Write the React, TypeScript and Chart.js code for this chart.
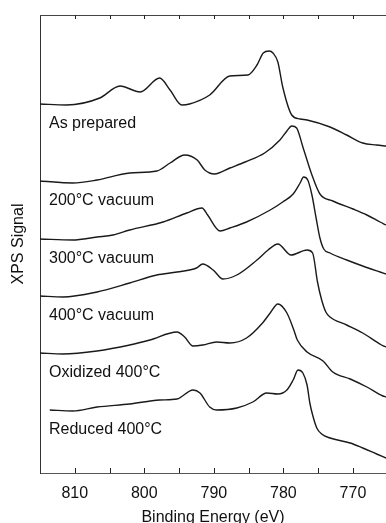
import React, { useEffect, useRef } from 'react';
import { Chart, registerables } from 'chart.js';

Chart.register(...registerables);

// Binding energy axis (eV), reversed
const energyMin = 765.25;
const energyMax = 815;
const tickStep = 5;

const seriesNames = ['As prepared', '200°C vacuum', '300°C vacuum', '400°C vacuum', 'Oxidized 400°C', 'Reduced 400°C'];

// As prepared
const asPreparedE = [815.0, 811.2, 806.4, 803.5, 800.6, 797.8, 796.3, 794.6, 793.5, 790.6, 787.7, 785.1, 783.8, 782.9, 782.05, 781.5, 780.8, 780.1, 778.8, 777.6, 776.6, 773.3, 770.9, 768.6, 766.6, 765.25];
const asPreparedY = [369, 368, 375, 387, 381, 395, 383, 368, 369, 378, 397, 398, 408, 420, 422, 420, 411, 386, 358, 354, 353, 346, 338, 330, 328, 327];

// 200 °C vacuum
const vac200E = [815.0, 810.3, 806.8, 802.1, 798.2, 796.3, 794.2, 792.4, 791.3, 789.9, 787.7, 785.5, 782.7, 780.5, 779.5, 778.8, 778.1, 777.2, 775.9, 774.75, 772.9, 770.0, 768.0, 766.1, 765.25];
const vac200Y = [292, 290, 293, 300, 302, 310, 318, 313, 303, 299, 305, 311, 320, 333, 342, 347, 345, 326, 298, 279, 272, 264, 258, 251, 248];

// 300 °C vacuum
const vac300E = [815.0, 810.3, 806.8, 804.5, 802.1, 797.3, 793.9, 791.7, 790.9, 789.1, 787.7, 785.3, 781.9, 780.1, 778.6, 777.6, 777.1, 776.5, 775.9, 775.3, 774.75, 774.2, 773.3, 770.9, 768.6, 766.1, 765.25];
const vac300Y = [234, 233, 236, 238, 243, 251, 260, 265, 258, 242, 245, 251, 263, 271, 279, 290, 296, 293, 278, 255, 235, 224, 220, 213, 207, 201, 199];

// 400 °C vacuum
const vac400E = [815.0, 811.7, 806.8, 802.1, 798.2, 795.3, 792.5, 791.6, 790.1, 788.7, 786.7, 783.8, 782.2, 780.8, 778.9, 776.6, 775.8, 775.1, 774.5, 773.9, 773.3, 770.9, 768.6, 765.9, 765.25];
const vac400Y = [177, 176, 181, 190, 198, 201, 205, 209, 203, 194, 198, 213, 223, 229, 218, 223, 220, 191, 173, 161, 156, 148, 140, 128, 126];

// Oxidized 400 °C
const oxidizedE = [815.0, 811.7, 806.8, 802.1, 799.2, 795.3, 794.2, 793.0, 791.6, 789.6, 787.7, 785.3, 783.0, 781.9, 780.8, 779.5, 778.5, 778.0, 776.6, 774.3, 772.9, 770.4, 768.0, 765.7, 765.25];
const oxidizedY = [120, 119, 122, 128, 133, 141, 136, 127, 128, 131, 130, 135, 150, 160, 169, 160, 143, 133, 121, 112, 101, 94, 86, 77, 76];

// Reduced 400 °C
const reducedE = [813.6, 810.3, 806.8, 802.1, 797.8, 795.3, 793.0, 792.0, 790.6, 789.6, 786.7, 784.4, 782.4, 780.8, 779.5, 778.6, 777.9, 777.2, 776.6, 776.2, 775.8, 775.2, 774.5, 773.3, 770.4, 768.6, 766.6, 765.25];
const reducedY = [63, 62, 66, 69, 73, 74, 83, 80, 66, 63, 65, 71, 80, 79, 83, 93, 103, 100, 88, 70, 58, 45, 39, 35, 30, 25, 19, 15];

const signalMax = 458;

const seriesE = [asPreparedE, vac200E, vac300E, vac400E, oxidizedE, reducedE];
const seriesY = [asPreparedY, vac200Y, vac300Y, vac400Y, oxidizedY, reducedY];

const FONT = '"Liberation Sans", Arial, Helvetica, sans-serif';

const decorPlugin = {
  id: 'decor',
  afterDraw(chart: any) {
    const { ctx, chartArea, scales } = chart;
    const xs = scales.x;
    const ys = scales.y;
    ctx.save();
    // top frame line
    ctx.strokeStyle = '#444';
    ctx.lineWidth = 1;
    ctx.beginPath();
    ctx.moveTo(chartArea.left, chartArea.top + 0.5);
    ctx.lineTo(chartArea.right, chartArea.top + 0.5);
    ctx.stroke();
    // inward tick marks on bottom and top
    ctx.strokeStyle = '#222';
    ctx.beginPath();
    xs.ticks.forEach((t: any) => {
      const v = t.value;
      if (v >= energyMax || v <= energyMin) return;
      const px = Math.round(xs.getPixelForValue(v)) + 0.5;
      ctx.moveTo(px, chartArea.bottom);
      ctx.lineTo(px, chartArea.bottom - 5);
      ctx.moveTo(px, chartArea.top);
      ctx.lineTo(px, chartArea.top + 4);
    });
    ctx.stroke();
    // curve labels
    ctx.font = '16px ' + FONT;
    ctx.fillStyle = '#111';
    ctx.textBaseline = 'alphabetic';
    ctx.textAlign = 'left';
    chart.data.datasets.forEach((ds: any) => {
      const first = ds.data[0];
      const py = ys.getPixelForValue(first.y) + 23.5;
      ctx.fillText(ds.label, chartArea.left + 9, py);
    });
    ctx.restore();
  },
};

export default function App() {
  const ref = useRef<HTMLCanvasElement | null>(null);
  useEffect(() => {
    if (!ref.current) return;
    const datasets = seriesNames.map((name, i) => ({
      label: name,
      data: seriesE[i].map((e, j) => ({ x: e, y: seriesY[i][j] })),
      borderColor: '#1a1a1a',
      borderWidth: 1.4,
      pointRadius: 0,
      fill: false,
      cubicInterpolationMode: 'monotone' as const,
    }));
    const chart = new Chart(ref.current, {
      type: 'line',
      data: { datasets },
      options: {
        animation: false,
        responsive: false,
        maintainAspectRatio: false,
        layout: { padding: { top: 15, right: 0, left: 0, bottom: 0 } },
        plugins: { legend: { display: false }, tooltip: { enabled: false } },
        scales: {
          x: {
            type: 'linear',
            reverse: true,
            min: energyMin,
            max: energyMax,
            grid: { display: false, drawTicks: false },
            border: { display: true, color: '#555', width: 1 },
            ticks: {
              stepSize: tickStep,
              includeBounds: false,
              autoSkip: false,
              maxRotation: 0,
              padding: 11,
              color: '#111',
              font: { family: FONT, size: 16 },
              callback: (v: any) => (Number(v) % 10 === 0 ? String(v) : ''),
            },
            title: {
              display: true,
              text: 'Binding Energy (eV)',
              color: '#111',
              font: { family: FONT, size: 16 },
              padding: { top: 0, bottom: -4 },
            },
            afterFit: (s: any) => { s.height = 50; },
          },
          y: {
            type: 'linear',
            min: 0,
            max: signalMax,
            grid: { display: false, drawTicks: false },
            border: { display: true, color: '#333', width: 1 },
            ticks: { display: false },
            title: {
              display: true,
              text: 'XPS Signal',
              color: '#111',
              font: { family: FONT, size: 16 },
              padding: { top: 9, bottom: 0 },
            },
            afterFit: (s: any) => { s.width = 40; },
          },
        },
      },
      plugins: [decorPlugin],
    });
    return () => chart.destroy();
  }, []);
  return (
    <div style={{ position: 'fixed', left: 0, top: 0, width: 386, height: 523, background: '#fff' }}>
      <canvas ref={ref} width={386} height={523} />
    </div>
  );
}
